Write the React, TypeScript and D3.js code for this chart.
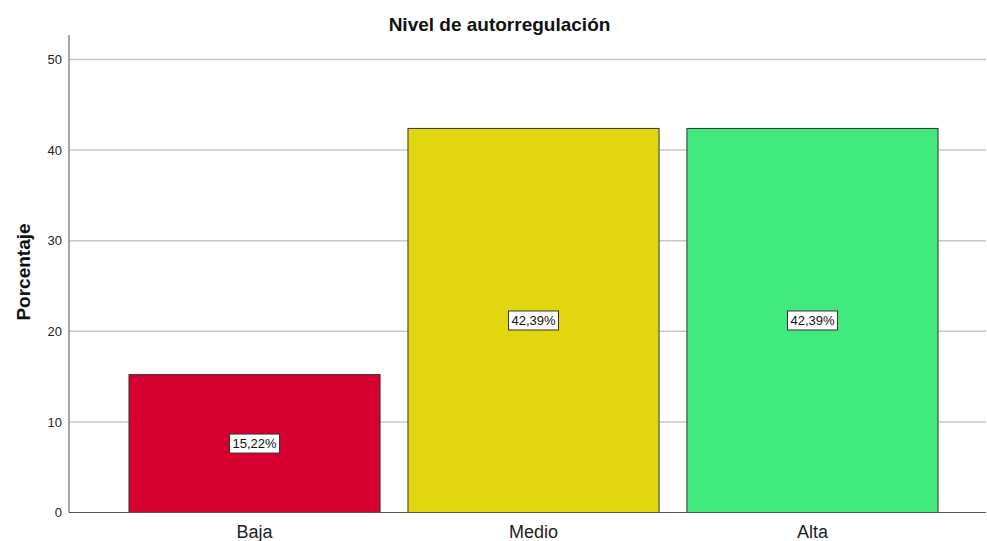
import React from "react";
import * as d3 from "d3";

const categories = ["Baja", "Medio", "Alta"];
const values = [15.22, 42.39, 42.39];
const labels = ["15,22%", "42,39%", "42,39%"];
const colors = ["#D6002F", "#E2D60F", "#42EA7D"];
const yTicks = [0, 10, 20, 30, 40, 50];

const W = 987;
const H = 541;

export default function App() {
  const y = d3.scaleLinear().domain([0, 50]).range([512.5, 59.5]);
  const x = d3
    .scaleBand<string>()
    .domain(categories)
    .range([69, 998])
    .paddingInner(0.1)
    .paddingOuter(0.215);
  const axisX = 69;
  const gridEnd = 986;
  const axisTop = y(52.7);
  const font = "'Liberation Sans', Arial, sans-serif";

  return (
    <svg
      width={W}
      height={H}
      style={{ position: "absolute", left: 0, top: 0, background: "#fff" }}
      fontFamily={font}
    >
      <text x={499.5} y={31} textAnchor="middle" fontSize={19} fontWeight="bold" fill="#111">
        Nivel de autorregulación
      </text>
      {yTicks.filter((t) => t > 0).map((t) => (
        <line key={"g" + t} x1={axisX} x2={gridEnd} y1={y(t)} y2={y(t)} stroke="#c8c8c8" strokeWidth={1.5} />
      ))}
      {categories.map((c, i) => (
        <rect
          key={c}
          x={x(c)}
          y={y(values[i])}
          width={x.bandwidth()}
          height={y(0) - y(values[i])}
          fill={colors[i]}
          stroke="#333"
          strokeWidth={1}
        />
      ))}
      <line x1={axisX} x2={axisX} y1={axisTop} y2={y(0)} stroke="#888" strokeWidth={1.5} />
      <line x1={axisX} x2={gridEnd} y1={y(0)} y2={y(0)} stroke="#555" strokeWidth={1.2} />
      {yTicks.map((t) => (
        <text key={"t" + t} x={62} y={y(t)} dy="0.36em" textAnchor="end" fontSize={13} fill="#222">
          {t}
        </text>
      ))}
      {categories.map((c) => (
        <text key={"c" + c} x={(x(c) as number) + x.bandwidth() / 2} y={538} textAnchor="middle" fontSize={18} fill="#222">
          {c}
        </text>
      ))}
      {categories.map((c, i) => {
        const cx = (x(c) as number) + x.bandwidth() / 2;
        const cy = y(values[i] / 2);
        const bw = 50;
        const bh = 19;
        return (
          <g key={"l" + c}>
            <rect x={cx - bw / 2} y={cy - bh / 2} width={bw} height={bh} fill="#fff" stroke="#333" strokeWidth={1} />
            <text x={cx} y={cy} dy="0.36em" textAnchor="middle" fontSize={13} fill="#111">
              {labels[i]}
            </text>
          </g>
        );
      })}
      <text
        transform={`translate(30, 272) rotate(-90)`}
        textAnchor="middle"
        fontSize={19}
        fontWeight="bold"
        fill="#111"
      >
        Porcentaje
      </text>
    </svg>
  );
}
